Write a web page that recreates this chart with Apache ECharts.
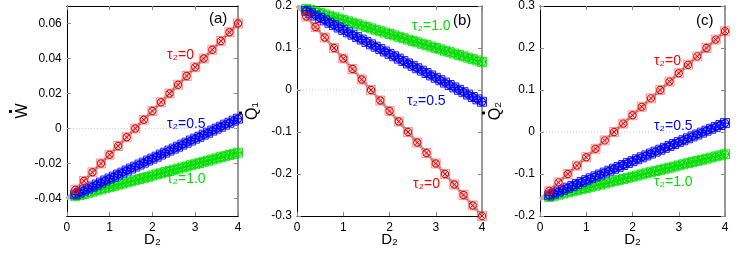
<!DOCTYPE html>
<html><head><meta charset="utf-8">
<script src="https://cdn.jsdelivr.net/npm/echarts@6/dist/echarts.min.js"></script>
<style>html,body{margin:0;padding:0;background:#fff}#c{width:747px;height:262px}</style>
</head><body><div id="c"></div>
<script>
// ---------- data ----------
const dCoarse = [0.2,0.4,0.6,0.8,1.0,1.2,1.4,1.6,1.8,2.0,2.2,2.4,2.6,2.8,3.0,3.2,3.4,3.6,3.8,4.0];
const dFine = [0.2,0.3,0.4,0.5,0.6,0.7,0.8,0.9,1.0,1.1,1.2,1.3,1.4,1.5,1.6,1.7,1.8,1.9,2.0,2.1,2.2,2.3,2.4,2.5,2.6,2.7,2.8,2.9,3.0,3.1,3.2,3.3,3.4,3.5,3.6,3.7,3.8,3.9,4.0];

// panel (a): W-dot
const wTau0 = [-0.035,-0.030,-0.025,-0.020,-0.015,-0.010,-0.005,0.000,0.005,0.010,0.015,0.020,0.025,0.030,0.035,0.040,0.045,0.050,0.055,0.060];
const wTau05 = [-0.0377,-0.0366,-0.0354,-0.0343,-0.0332,-0.0320,-0.0309,-0.0297,-0.0286,-0.0275,-0.0263,-0.0252,-0.0240,-0.0229,-0.0218,-0.0206,-0.0195,-0.0183,-0.0172,-0.0161,-0.0149,-0.0138,-0.0126,-0.0115,-0.0104,-0.0092,-0.0081,-0.0069,-0.0058,-0.0047,-0.0035,-0.0024,-0.0012,-0.0001,0.0010,0.0022,0.0033,0.0045,0.0056];
const wTau10 = [-0.0387,-0.0380,-0.0374,-0.0367,-0.0361,-0.0354,-0.0348,-0.0341,-0.0335,-0.0328,-0.0321,-0.0315,-0.0308,-0.0302,-0.0295,-0.0289,-0.0282,-0.0276,-0.0269,-0.0262,-0.0256,-0.0249,-0.0243,-0.0236,-0.0230,-0.0223,-0.0217,-0.0210,-0.0204,-0.0197,-0.0190,-0.0184,-0.0177,-0.0171,-0.0164,-0.0158,-0.0151,-0.0145,-0.0138];

// panel (b): Q1-dot
const q1Tau0 = [0.175,0.150,0.125,0.100,0.075,0.050,0.025,0.000,-0.025,-0.050,-0.075,-0.100,-0.125,-0.150,-0.175,-0.200,-0.225,-0.250,-0.275,-0.300];
const q1Tau05 = [0.1886,0.1829,0.1772,0.1715,0.1658,0.1601,0.1544,0.1487,0.1430,0.1373,0.1316,0.1259,0.1202,0.1145,0.1088,0.1031,0.0974,0.0917,0.0860,0.0803,0.0746,0.0689,0.0632,0.0575,0.0518,0.0461,0.0404,0.0347,0.0290,0.0233,0.0176,0.0119,0.0062,0.0005,-0.0052,-0.0109,-0.0166,-0.0223,-0.0280];
const q1Tau10 = [0.1933,0.1900,0.1867,0.1834,0.1800,0.1767,0.1734,0.1700,0.1667,0.1634,0.1600,0.1567,0.1534,0.1501,0.1467,0.1434,0.1401,0.1367,0.1334,0.1301,0.1267,0.1234,0.1201,0.1168,0.1134,0.1101,0.1068,0.1034,0.1001,0.0968,0.0934,0.0901,0.0868,0.0835,0.0801,0.0768,0.0735,0.0701,0.0668];

// panel (c): Q2-dot
const q2Tau0 = [-0.14,-0.12,-0.10,-0.08,-0.06,-0.04,-0.02,0.00,0.02,0.04,0.06,0.08,0.10,0.12,0.14,0.16,0.18,0.20,0.22,0.24];
const q2Tau05 = [-0.1509,-0.1464,-0.1419,-0.1374,-0.1328,-0.1283,-0.1238,-0.1192,-0.1147,-0.1102,-0.1056,-0.1011,-0.0966,-0.0921,-0.0875,-0.0830,-0.0785,-0.0739,-0.0694,-0.0649,-0.0603,-0.0558,-0.0513,-0.0468,-0.0422,-0.0377,-0.0332,-0.0286,-0.0241,-0.0196,-0.0150,-0.0105,-0.0060,-0.0015,0.0031,0.0076,0.0121,0.0167,0.0212];
const q2Tau10 = [-0.1546,-0.1520,-0.1493,-0.1466,-0.1439,-0.1412,-0.1386,-0.1359,-0.1332,-0.1305,-0.1278,-0.1252,-0.1225,-0.1198,-0.1171,-0.1144,-0.1118,-0.1091,-0.1064,-0.1037,-0.1010,-0.0984,-0.0957,-0.0930,-0.0903,-0.0876,-0.0850,-0.0823,-0.0796,-0.0769,-0.0742,-0.0716,-0.0689,-0.0662,-0.0635,-0.0608,-0.0582,-0.0555,-0.0528];

// theory lines (gray), endpoints at D2 = 0 and 4
const lineD = [0, 4];
const wLine0 = [-0.04, 0.060], wLine05 = [-0.04, 0.0056], wLine10 = [-0.04, -0.0138];
const q1Line0 = [0.2, -0.300], q1Line05 = [0.2, -0.0280], q1Line10 = [0.2, 0.0668];
const q2Line0 = [-0.16, 0.240], q2Line05 = [-0.16, 0.0212], q2Line10 = [-0.16, -0.0528];
const zeroLine = [0, 0];

// ticks
const xTicks = [0,1,2,3,4];
const wTicks = [-0.04,-0.02,0,0.02,0.04,0.06];
const q1Ticks = [-0.3,-0.2,-0.1,0,0.1,0.2];
const q2Ticks = [-0.2,-0.1,0,0.1,0.2,0.3];

// ---------- chart ----------
const RED = '#ff0000', BLUE = '#0000ff', GREEN = '#00e000';
const FONT = 'Liberation Sans, Arial, DejaVu Sans, sans-serif';
const zip = (a, b) => a.map((v, i) => [v, b[i]]);

function markerRender(kind, color) {
  return function (params, api) {
    const p = api.coord([api.value(0), api.value(1)]);
    const s = 4.5, r = 3.6, k = 2.6;
    const isX = kind === 'x';
    const ch = [];
    if (!isX) ch.push({type: 'rect', shape: {x: p[0] - s, y: p[1] - s, width: 2 * s, height: 2 * s},
       style: {fill: color, opacity: 0.15, stroke: null}});
    ch.push({type: 'rect', shape: {x: p[0] - s, y: p[1] - s, width: 2 * s, height: 2 * s},
       style: {fill: 'none', stroke: color, lineWidth: 1, opacity: isX ? 0.4 : 0.85}});
    ch.push({type: 'circle', shape: {cx: p[0], cy: p[1], r: r},
       style: {fill: 'none', stroke: color, lineWidth: 1.1}});
    if (isX) {
      ch.push({type: 'line', shape: {x1: p[0] - k, y1: p[1] - k, x2: p[0] + k, y2: p[1] + k}, style: {stroke: color, lineWidth: 1}});
      ch.push({type: 'line', shape: {x1: p[0] - k, y1: p[1] + k, x2: p[0] + k, y2: p[1] - k}, style: {stroke: color, lineWidth: 1}});
    } else {
      ch.push({type: 'line', shape: {x1: p[0] - r, y1: p[1], x2: p[0] + r, y2: p[1]}, style: {stroke: color, lineWidth: 1}});
      ch.push({type: 'line', shape: {x1: p[0], y1: p[1] - r, x2: p[0], y2: p[1] + r}, style: {stroke: color, lineWidth: 1}});
    }
    return {type: 'group', children: ch};
  };
}

const panels = [
  {left: 54, width: 184, min: -0.05, max: 0.07, ticks: wTicks, dec: 2, name: '{d|·}\n{m|W}',
   red: wTau0, blue: wTau05, green: wTau10, lines: [wLine0, wLine05, wLine10]},
  {left: 297, width: 185, min: -0.3, max: 0.2, ticks: q1Ticks, dec: 1, name: '{e|·}\n{m|Q₁}',
   red: q1Tau0, blue: q1Tau05, green: q1Tau10, lines: [q1Line0, q1Line05, q1Line10]},
  {left: 540, width: 185, min: -0.2, max: 0.3, ticks: q2Ticks, dec: 1, name: '{e|·}\n{m|Q₂}',
   red: q2Tau0, blue: q2Tau05, green: q2Tau10, lines: [q2Line0, q2Line05, q2Line10]}
];

const nameRich = {
  d: {fontSize: 20, lineHeight: 7, color: '#000', fontFamily: FONT, fontWeight: 'bold'},
  e: {fontSize: 20, lineHeight: 7, color: '#000', fontFamily: FONT, fontWeight: 'bold', padding: [0, 3, 0, 0]},
  m: {fontSize: 16, lineHeight: 16, color: '#000', fontFamily: FONT}
};

const grid = [], xAxis = [], yAxis = [], series = [];
panels.forEach((pn, i) => {
  grid.push({left: pn.left, top: 6, width: pn.width, height: 210});
  const tick = {show: true, inside: true, length: 4, lineStyle: {color: '#888', width: 1}};
  xAxis.push({type: 'value', gridIndex: i, min: 0, max: 4, interval: 1, position: 'bottom',
    name: 'D₂', nameLocation: 'middle', nameGap: 16, nameMoveOverlap: false,
    nameTextStyle: {fontSize: 15, color: '#000', fontFamily: FONT, verticalAlign: 'top'},
    axisLine: {onZero: false, lineStyle: {color: '#000', width: 1}},
    axisTick: tick, splitLine: {show: false},
    axisLabel: {color: '#000', fontSize: 12, fontFamily: FONT, margin: 6, customValues: xTicks}});
  xAxis.push({type: 'value', gridIndex: i, min: 0, max: 4, interval: 1, position: 'top',
    axisLine: {onZero: false, lineStyle: {color: '#000', width: 1}},
    axisTick: tick, splitLine: {show: false}, axisLabel: {show: false}});
  yAxis.push({type: 'value', gridIndex: i, min: pn.min, max: pn.max, position: 'left',
    name: pn.name, nameLocation: 'middle', nameGap: 36,
    nameTextStyle: {fontSize: 16, color: '#000', fontFamily: FONT, rich: nameRich, align: 'center'},
    axisLine: {onZero: false, lineStyle: {color: '#000', width: 1}},
    axisTick: Object.assign({customValues: pn.ticks}, tick), splitLine: {show: false},
    axisLabel: {color: '#000', fontSize: 12, fontFamily: FONT, margin: 5, customValues: pn.ticks,
      formatter: v => (Math.abs(v) < 1e-9 ? '0' : v.toFixed(pn.dec))}});
  yAxis.push({type: 'value', gridIndex: i, min: pn.min, max: pn.max, position: 'right',
    axisLine: {onZero: false, lineStyle: {color: '#999', width: 2}},
    axisTick: Object.assign({customValues: pn.ticks}, tick), splitLine: {show: false},
    axisLabel: {show: false, customValues: pn.ticks}});
  const xi = 2 * i, yi = 2 * i;
  series.push({type: 'line', xAxisIndex: xi, yAxisIndex: yi, data: zip(lineD, zeroLine), symbol: 'none',
    silent: true, lineStyle: {color: '#cccccc', width: 1, type: [1, 2]}, z: 1});
  pn.lines.forEach(l => series.push({type: 'line', xAxisIndex: xi, yAxisIndex: yi, data: zip(lineD, l),
    symbol: 'none', silent: true, lineStyle: {color: '#b4b4b4', width: 3}, z: 2}));
  [[pn.green, dFine, 'plus', GREEN], [pn.blue, dFine, 'plus', BLUE], [pn.red, dCoarse, 'x', RED]].forEach(s => {
    series.push({type: 'custom', xAxisIndex: xi, yAxisIndex: yi, data: zip(s[1], s[0]),
      encode: {x: 0, y: 1}, renderItem: markerRender(s[2], s[3]), silent: true, z: 3});
  });
});

const lbl = (text, left, top, color, size) => ({type: 'text', left, top, silent: true,
  style: {text, fill: color, fontSize: size || 14, fontFamily: FONT}});
const graphic = [
  lbl('(a)', 209, 11, '#000', 15), lbl('(b)', 453, 13, '#000', 15), lbl('(c)', 696, 13, '#000', 15),
  lbl('τ₂=0', 167, 48, RED), lbl('τ₂=0.5', 167, 117, BLUE), lbl('τ₂=1.0', 167, 172, GREEN),
  lbl('τ₂=1.0', 412, 19, GREEN), lbl('τ₂=0.5', 407, 94, BLUE), lbl('τ₂=0', 413, 177, RED),
  lbl('τ₂=0', 654, 54, RED), lbl('τ₂=0.5', 654, 119, BLUE), lbl('τ₂=1.0', 654, 175, GREEN)
];

const chart = echarts.init(document.getElementById('c'), null, {renderer: 'canvas'});
chart.setOption({animation: false, backgroundColor: '#fff', grid, xAxis, yAxis, series, graphic});
</script></body></html>
